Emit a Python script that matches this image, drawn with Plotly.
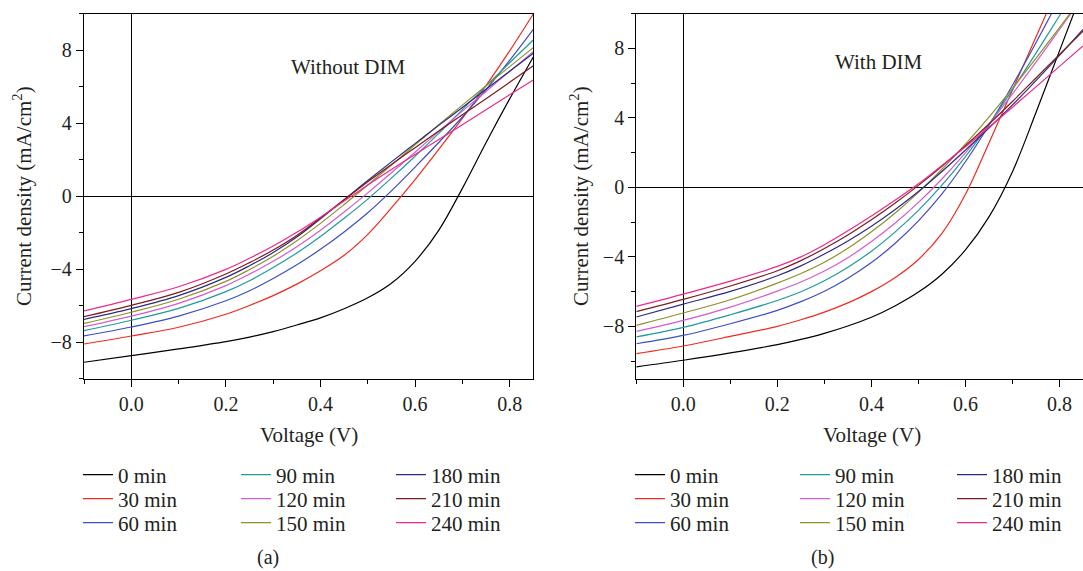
import plotly.graph_objects as go

W, H = 1083, 571

# ---------------- data ----------------
voltage = [-0.1, 0.0, 0.1, 0.2, 0.25, 0.3, 0.35, 0.4, 0.45, 0.5, 0.55, 0.6, 0.65, 0.7, 0.75, 0.8, 0.85]
series_labels = ["0 min", "30 min", "60 min", "90 min", "120 min", "150 min", "180 min", "210 min", "240 min"]
series_colors = ["#000000", "#f02a1e", "#3d4ec4", "#1f9b9b", "#d35ccf", "#8f8f2c", "#2b2b86", "#7e1b1b", "#f0288a"]

# (a) Without DIM
without_0 = [-9.11, -8.75, -8.38, -7.98, -7.73, -7.43, -7.07, -6.68, -6.18, -5.58, -4.78, -3.58, -1.88, 0.42, 2.92, 5.32, 7.62]
without_30 = [-8.11, -7.67, -7.19, -6.48, -6.0, -5.46, -4.83, -4.1, -3.25, -2.1, -0.65, 0.9, 2.55, 4.25, 6.05, 7.95, 9.97]
without_60 = [-7.67, -7.18, -6.58, -5.74, -5.19, -4.52, -3.77, -2.92, -1.97, -0.92, 0.28, 1.58, 2.93, 4.33, 5.83, 7.43, 9.13]
without_90 = [-7.38, -6.81, -6.16, -5.24, -4.64, -3.92, -3.12, -2.22, -1.22, -0.17, 0.98, 2.18, 3.43, 4.73, 6.03, 7.3, 8.55]
without_120 = [-7.16, -6.58, -5.88, -4.91, -4.28, -3.58, -2.78, -1.88, -0.88, 0.17, 1.27, 2.4, 3.53, 4.65, 5.73, 6.83, 7.91]
without_150 = [-6.98, -6.37, -5.66, -4.68, -4.03, -3.3, -2.45, -1.5, -0.47, 0.6, 1.7, 2.8, 3.9, 4.98, 6.04, 7.09, 8.13]
without_180 = [-6.76, -6.17, -5.46, -4.46, -3.82, -3.1, -2.25, -1.25, -0.2, 0.85, 1.87, 2.87, 3.87, 4.85, 5.85, 6.84, 7.82]
without_210 = [-6.61, -5.99, -5.28, -4.27, -3.65, -2.96, -2.16, -1.2, -0.2, 0.78, 1.73, 2.65, 3.56, 4.45, 5.33, 6.23, 7.14]
without_240 = [-6.30, -5.66, -4.97, -4.02, -3.41, -2.74, -1.99, -1.16, -0.28, 0.6, 1.45, 2.27, 3.09, 3.91, 4.73, 5.55, 6.36]

# (b) With DIM
with_0 = [-10.33, -9.95, -9.53, -9.05, -8.75, -8.4, -7.98, -7.48, -6.83, -6.03, -5.0, -3.6, -1.7, 0.9, 4.3, 7.85, 11.4]
with_30 = [-9.57, -9.13, -8.58, -8.0, -7.62, -7.18, -6.65, -6.0, -5.2, -4.15, -2.65, -0.4, 2.55, 5.6, 8.65, 11.7, 14.75]
with_60 = [-9.0, -8.52, -7.85, -7.08, -6.58, -5.98, -5.23, -4.33, -3.23, -1.93, -0.38, 1.47, 3.57, 5.87, 8.32, 10.87, 13.5]
with_90 = [-8.61, -8.06, -7.33, -6.51, -6.01, -5.38, -4.6, -3.68, -2.58, -1.33, 0.12, 1.77, 3.62, 5.62, 7.72, 9.87, 12.0]
with_120 = [-8.29, -7.66, -6.89, -5.97, -5.45, -4.82, -4.05, -3.12, -2.07, -0.87, 0.48, 1.98, 3.63, 5.38, 7.2, 9.08, 10.98]
with_150 = [-7.94, -7.23, -6.47, -5.51, -4.96, -4.31, -3.51, -2.56, -1.49, -0.29, 1.04, 2.49, 4.04, 5.69, 7.42, 9.19, 10.99]
with_180 = [-7.46, -6.72, -5.99, -5.09, -4.52, -3.84, -3.09, -2.24, -1.29, -0.24, 0.91, 2.14, 3.41, 4.74, 6.14, 7.59, 9.09]
with_210 = [-7.15, -6.45, -5.68, -4.8, -4.22, -3.52, -2.74, -1.87, -0.92, 0.11, 1.21, 2.39, 3.64, 4.94, 6.29, 7.64, 8.99]
with_240 = [-6.85, -6.15, -5.4, -4.55, -4.0, -3.3, -2.5, -1.65, -0.75, 0.2, 1.26, 2.33, 3.46, 4.61, 5.78, 6.96, 8.13]

x_ticks = [0.0, 0.2, 0.4, 0.6, 0.8]
y_ticks = [-8, -4, 0, 4, 8]

panel_a = [without_0, without_30, without_60, without_90, without_120,
           without_150, without_180, without_210, without_240]
panel_b = [with_0, with_30, with_60, with_90, with_120,
           with_150, with_180, with_210, with_240]

# ---------------- styling ----------------
FONT = "Liberation Serif"
TXT = "#231f20"

def px_x(p):
    return p / W

def px_y(p):
    return 1 - p / H

fig = go.Figure()

# legend layout (pixel positions of the line start and row centers)
leg_cols_a = [85, 243, 398]
leg_cols_b = [637, 802, 959]
leg_rows = [475, 499, 523]

legends = {}
k = 0
for vals, cols, xa, ya in [(panel_a, leg_cols_a, "x", "y"),
                           (panel_b, leg_cols_b, "x2", "y2")]:
    for i, (ys, lab, col) in enumerate(zip(vals, series_labels, series_colors)):
        k += 1
        lname = "legend" if k == 1 else f"legend{k}"
        fig.add_trace(go.Scatter(
            x=voltage, y=ys, mode="lines", name=lab,
            line=dict(color=col, width=1.2, shape="spline", smoothing=1.0),
            xaxis=xa, yaxis=ya, legend=lname, showlegend=True,
            hoverinfo="skip"))
        c, r = divmod(i, 3)
        legends[lname] = dict(
            x=px_x(cols[c] - 7), y=px_y(leg_rows[r]),
            xanchor="left", yanchor="middle",
            bgcolor="rgba(0,0,0,0)", borderwidth=0,
            font=dict(family=FONT, size=21, color=TXT),
            itemclick=False, itemdoubleclick=False)

axis_common = dict(
    showline=True, linecolor="black", linewidth=1.3,
    ticks="outside", ticklen=7, tickwidth=1.2, tickcolor="black",
    showgrid=False, zeroline=True, zerolinecolor="black", zerolinewidth=1.3,
    tickfont=dict(family=FONT, size=20, color=TXT),
)

plot_top, plot_bot = 13.5, 378.5

fig.update_layout(
    width=W, height=H,
    margin=dict(l=0, r=0, t=0, b=0, autoexpand=False),
    paper_bgcolor="white", plot_bgcolor="white",
    xaxis=dict(domain=[px_x(84), px_x(533.3)], range=[-0.1, 0.85], anchor="y",
               tickvals=x_ticks, tickformat=".1f", mirror=True,
               minor=dict(ticks="outside", ticklen=4, tickcolor="black", dtick=0.1, tick0=0),
               **axis_common),
    yaxis=dict(domain=[px_y(plot_bot), px_y(plot_top)], range=[-10, 10], anchor="x",
               tickvals=y_ticks, mirror=True,
               minor=dict(ticks="outside", ticklen=4, tickcolor="black", dtick=2, tick0=0),
               **axis_common),
    xaxis2=dict(domain=[px_x(636.3), 1.0], range=[-0.1, 0.85], anchor="y2",
                tickvals=x_ticks, tickformat=".1f", mirror=True,
                minor=dict(ticks="outside", ticklen=4, tickcolor="black", dtick=0.1, tick0=0),
                **axis_common),
    yaxis2=dict(domain=[px_y(plot_bot), px_y(plot_top)], range=[-11, 10], anchor="x2",
                tickvals=y_ticks, mirror=False,
                minor=dict(ticks="outside", ticklen=4, tickcolor="black", dtick=2, tick0=0),
                **axis_common),
    **legends,
)

def ann(text, x, y, size=21, angle=0):
    fig.add_annotation(text=text, x=px_x(x), y=px_y(y), xref="paper", yref="paper",
                       showarrow=False, xanchor="center", yanchor="middle",
                       textangle=angle, font=dict(family=FONT, size=size, color=TXT))

ann("Without DIM", 348, 67)
ann("With DIM", 879, 62)
ann("Voltage (V)", 309, 435)
ann("Voltage (V)", 872, 435)
ann("Current density (mA/cm<sup>2</sup>)", 23, 196, angle=-90)
ann("Current density (mA/cm<sup>2</sup>)", 580, 196, angle=-90)
ann("(a)", 268, 557, size=20)
ann("(b)", 822, 557, size=20)

fig.write_html("out.html")
